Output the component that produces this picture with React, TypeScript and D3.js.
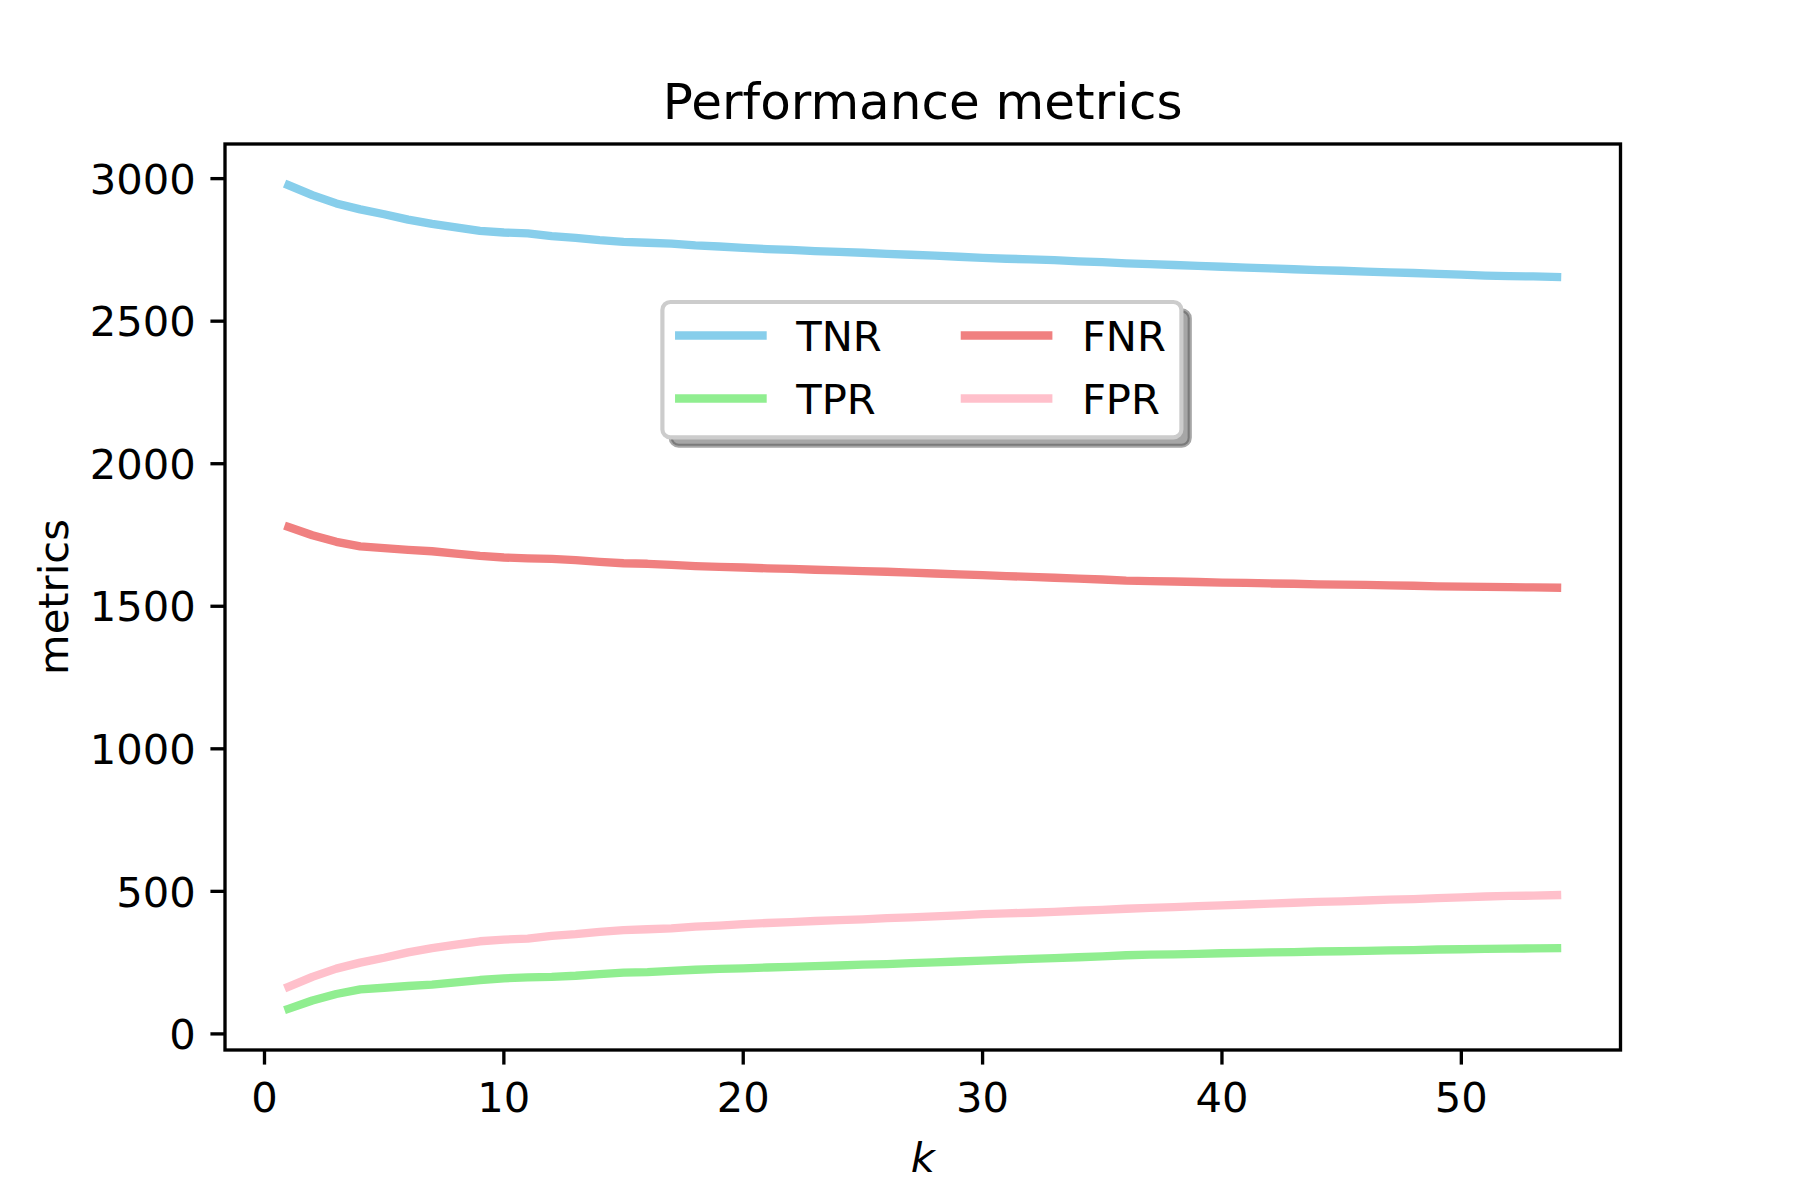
import React from 'react';
import * as d3 from 'd3';

// k = 1..54
const kValues = d3.range(1, 55);

const tnr = [2977, 2942, 2913, 2892, 2875, 2856, 2841, 2829, 2817, 2811, 2808, 2798, 2792, 2784, 2778, 2775, 2772, 2766, 2762, 2757,
  2753, 2750, 2746, 2743, 2740, 2736, 2733, 2730, 2726, 2722, 2719, 2717, 2714, 2710, 2707, 2703, 2700, 2697, 2694, 2691,
  2688, 2685, 2682, 2679, 2677, 2674, 2671, 2669, 2666, 2663, 2660, 2658, 2657, 2655];
const fpr = [165, 200, 229, 250, 267, 286, 301, 313, 325, 331, 334, 344, 350, 358, 364, 367, 370, 376, 380, 385,
  389, 392, 396, 399, 402, 406, 409, 412, 416, 420, 423, 425, 428, 432, 435, 439, 442, 445, 448, 451,
  454, 457, 460, 463, 465, 468, 471, 473, 476, 479, 482, 484, 485, 487];
const tpr = [88, 117, 140, 156, 162, 168, 173, 181, 189, 195, 198, 200, 204, 210, 215, 217, 221, 225, 228, 230,
  233, 235, 238, 240, 243, 245, 248, 251, 254, 257, 260, 263, 266, 269, 272, 276, 278, 279, 281, 283,
  284, 286, 287, 289, 290, 291, 293, 294, 296, 297, 298, 299, 300, 301];
const fnr = [1778, 1749, 1726, 1710, 1704, 1698, 1693, 1685, 1677, 1671, 1668, 1666, 1662, 1656, 1651, 1649, 1645, 1641, 1638, 1636,
  1633, 1631, 1628, 1626, 1623, 1621, 1618, 1615, 1612, 1609, 1606, 1603, 1600, 1597, 1594, 1590, 1588, 1587, 1585, 1583,
  1582, 1580, 1579, 1577, 1576, 1575, 1573, 1572, 1570, 1569, 1568, 1567, 1566, 1565];

const xTicks = [0, 10, 20, 30, 40, 50];
const yTicks = [0, 500, 1000, 1500, 2000, 2500, 3000];

// plot order = legend order (ncol=2 fills column-wise)
const series = [
  { name: 'TNR', values: tnr, color: '#87CEEB' },
  { name: 'TPR', values: tpr, color: '#90EE90' },
  { name: 'FNR', values: fnr, color: '#F08080' },
  { name: 'FPR', values: fpr, color: '#FFC0CB' },
];

const W = 1800;
const H = 1200;
const pt = 300 / 72;
const font = "'DejaVu Sans', sans-serif";
const fs = 10 * pt;

const left = 225, right = 1620.5, top = 144, bottom = 1050;

const App: React.FC = () => {
  const xPad = (54 - 1) * 0.05;
  const x = d3.scaleLinear().domain([1 - xPad, 54 + xPad]).range([left, right]);
  const all = series.flatMap(s => s.values);
  const yMin = d3.min(all)!, yMax = d3.max(all)!;
  const yPad = (yMax - yMin) * 0.05;
  const y = d3.scaleLinear().domain([yMin - yPad, yMax + yPad]).range([bottom, top]);

  const line = d3.line<number>()
    .x((_, i) => x(kValues[i]))
    .y(d => y(d));

  const tickLen = 3.5 * pt;
  const tickPad = 3.5 * pt;

  // legend geometry
  const lx = 662.4, ly = 302, lw = 519, lh = 135.4;
  const shadowOff = 2 * pt;
  const rowY = [335.5, 398.5];
  const colX = [679.2, 964.9];
  const handleLen = 2 * fs;

  return (
    <div style={{ position: 'fixed', left: 0, top: 0 }}>
      <svg width={W} height={H} viewBox={`0 0 ${W} ${H}`} style={{ display: 'block', background: '#fff' }}>
        <defs>
          <clipPath id="axclip">
            <rect x={left} y={top} width={right - left} height={bottom - top} />
          </clipPath>
        </defs>
        <rect x={0} y={0} width={W} height={H} fill="#fff" />

        <g clipPath="url(#axclip)">
          {series.map(s => (
            <path key={s.name} d={line(s.values) || ''} fill="none" stroke={s.color}
              strokeWidth={2 * pt} strokeLinecap="square" strokeLinejoin="round" />
          ))}
        </g>

        {/* frame */}
        <rect x={left} y={top} width={right - left} height={bottom - top} fill="none" stroke="#000" strokeWidth={0.8 * pt} strokeLinejoin="miter" />

        {/* x ticks */}
        {xTicks.map(t => (
          <g key={'x' + t}>
            <line x1={x(t)} x2={x(t)} y1={bottom} y2={bottom + tickLen} stroke="#000" strokeWidth={0.8 * pt} />
            <text x={x(t)} y={bottom + tickLen + tickPad + 32.5} textAnchor="middle" fontFamily={font} fontSize={fs} fill="#000">{t}</text>
          </g>
        ))}

        {/* y ticks */}
        {yTicks.map(t => (
          <g key={'y' + t}>
            <line x1={left - tickLen} x2={left} y1={y(t)} y2={y(t)} stroke="#000" strokeWidth={0.8 * pt} />
            <text x={left - tickLen - tickPad} y={y(t) + 15.2} textAnchor="end" fontFamily={font} fontSize={fs} fill="#000">{t}</text>
          </g>
        ))}

        {/* labels */}
        <text x={(left + right) / 2} y={119} textAnchor="middle" fontFamily={font} fontSize={12 * pt} fill="#000">Performance metrics</text>
        <text x={(left + right) / 2} y={1172} textAnchor="middle" fontFamily={font} fontStyle="italic" fontSize={fs} fill="#000">k</text>
        <text transform={`translate(68,${(top + bottom) / 2}) rotate(-90)`} textAnchor="middle" fontFamily={font} fontSize={fs} fill="#000">metrics</text>

        {/* legend */}
        <rect x={lx + shadowOff} y={ly + shadowOff} width={lw} height={lh} rx={8} ry={8}
          fill="rgba(77,77,77,0.5)" stroke="rgba(77,77,77,0.5)" strokeWidth={pt} />
        <rect x={lx} y={ly} width={lw} height={lh} rx={8} ry={8} fill="#fff" stroke="#cccccc" strokeWidth={pt} />
        {series.map((s, i) => {
          const col = Math.floor(i / 2), row = i % 2;
          const cx = colX[col], cy = rowY[row];
          return (
            <g key={'leg' + s.name}>
              <line x1={cx} x2={cx + handleLen} y1={cy} y2={cy} stroke={s.color} strokeWidth={2 * pt} strokeLinecap="square" />
              <text x={cx + handleLen + 4 * pt + 17} y={cy + 15.2} fontFamily={font} fontSize={fs} fill="#000">{s.name}</text>
            </g>
          );
        })}
      </svg>
    </div>
  );
};

export default App;
